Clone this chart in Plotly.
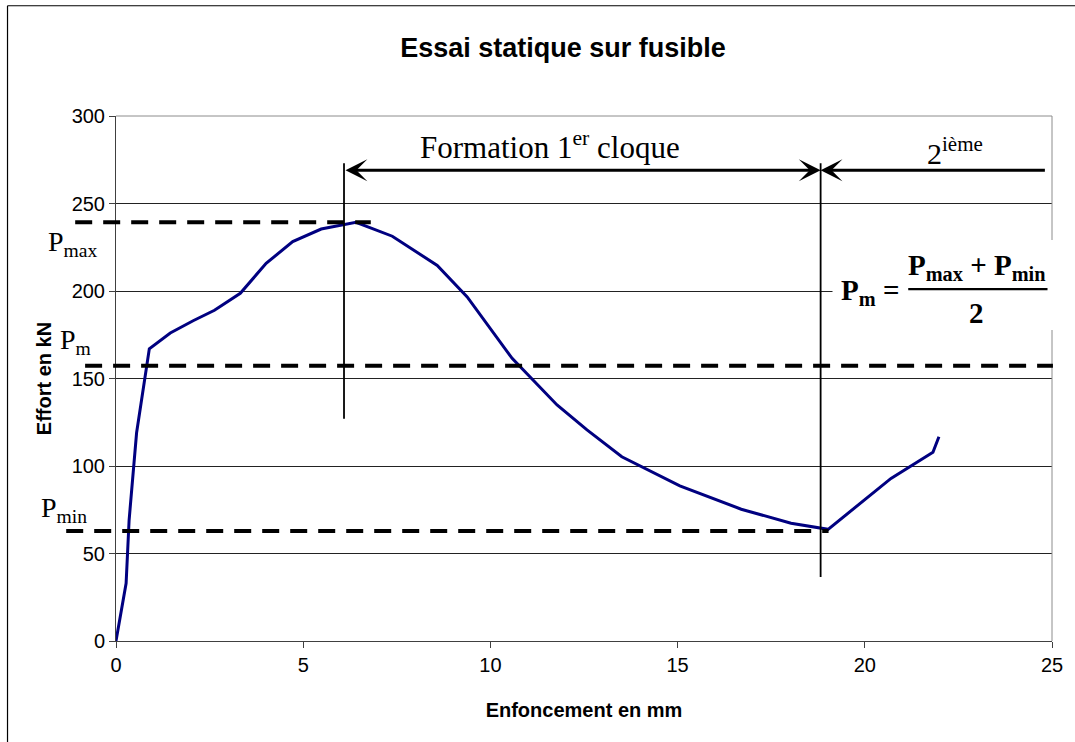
import plotly.graph_objects as go

# Static test on a crush fuse: force vs. indentation
enfoncement_mm = [0, 0.27, 0.35, 0.55, 0.89, 1.45, 2.06, 2.63, 3.32, 4.01, 4.72, 5.48,
                  6.41, 7.38, 8.58, 9.38, 10.58, 11.78, 12.58, 13.51, 15.06, 16.70,
                  18.03, 19.02, 20.70, 21.82, 21.98]
effort_kN = [0, 33, 69, 119, 167, 176, 183, 189, 198.7, 215.8, 228.2, 235.4,
             239.2, 231.3, 214.6, 196.6, 161.5, 134.9, 120.6, 105.3, 88.7, 75.3,
             67.3, 63.8, 92.9, 107.8, 116.7]

# Characteristic levels
P_max = 239.3
P_m = 157.3
P_min = 62.9

# Phase boundaries (mm) and the level of the phase arrows (kN)
debut_cloque_1 = 6.09
debut_cloque_2 = 18.82
fin_cloque_2 = 24.85
niveau_fleches = 269

x_ticks = [0, 5, 10, 15, 20, 25]
y_ticks = [0, 50, 100, 150, 200, 250, 300]

SANS = "Liberation Sans, Arial, sans-serif"
SERIF = "Liberation Serif, Times New Roman, serif"

fig = go.Figure()
fig.add_trace(go.Scatter(
    x=enfoncement_mm, y=effort_kN, mode="lines",
    line=dict(color="#000080", width=3), showlegend=False, hoverinfo="x+y",
))

shapes = []
# plot-area frame (top and right sides)
shapes.append(dict(type="line", xref="paper", yref="paper", x0=0, x1=1, y0=1, y1=1,
                   line=dict(color="#8c8c8c", width=1), layer="above"))
shapes.append(dict(type="line", xref="paper", yref="paper", x0=1, x1=1, y0=0, y1=1,
                   line=dict(color="#8c8c8c", width=1), layer="above"))
# outer chart frame
shapes.append(dict(type="line", xref="paper", yref="paper", x0=-0.1159, x1=1.03, y0=1.21, y1=1.21,
                   line=dict(color="#000", width=1.2), layer="above"))
shapes.append(dict(type="line", xref="paper", yref="paper", x0=-0.1159, x1=-0.1159, y0=-0.2, y1=1.21,
                   line=dict(color="#000", width=1.2), layer="above"))

# dashed reference levels
dash = "17px,11px"
for lvl, xa, xb in [(P_max, -0.0436, 0.2722), (P_m, -0.033, 1.001), (P_min, -0.0532, 0.7613)]:
    shapes.append(dict(type="line", xref="paper", yref="y", x0=xa, x1=xb, y0=lvl, y1=lvl,
                       line=dict(color="#000", width=4, dash=dash), layer="above"))

# phase boundaries
shapes.append(dict(type="line", xref="x", yref="y", x0=debut_cloque_1, x1=debut_cloque_1,
                   y0=127, y1=273, line=dict(color="#000", width=1.8), layer="above"))
shapes.append(dict(type="line", xref="x", yref="y", x0=debut_cloque_2, x1=debut_cloque_2,
                   y0=36.6, y1=273, line=dict(color="#000", width=1.8), layer="above"))

# white panel behind the formula
shapes.append(dict(type="rect", xref="paper", yref="paper", x0=0.7655, x1=1.03, y0=0.5924, y1=0.7638,
                   fillcolor="#fff", line=dict(width=0), layer="above"))
# fraction bar
shapes.append(dict(type="line", xref="x", yref="y", x0=21.16, x1=24.88, y0=201.1, y1=201.1,
                   line=dict(color="#000", width=2.2), layer="above"))

annotations = []
# phase arrows
annotations.append(dict(x=debut_cloque_2, y=niveau_fleches, ax=debut_cloque_1, ay=niveau_fleches,
                        xref="x", yref="y", axref="x", ayref="y", text="", showarrow=True,
                        arrowhead=3, startarrowhead=3, arrowside="end+start", arrowsize=1.3,
                        startarrowsize=1.3, arrowwidth=2.8, arrowcolor="#000", standoff=0, startstandoff=0))
annotations.append(dict(x=debut_cloque_2, y=niveau_fleches, ax=fin_cloque_2, ay=niveau_fleches,
                        xref="x", yref="y", axref="x", ayref="y", text="", showarrow=True,
                        arrowhead=3, arrowsize=1.3, arrowwidth=2.8, arrowcolor="#000", standoff=0))
annotations.append(dict(x=11.6, y=283, xref="x", yref="y", showarrow=False,
                        text="Formation 1<sup>er</sup> cloque",
                        font=dict(family=SERIF, size=31, color="#000")))
annotations.append(dict(x=22.4, y=280, xref="x", yref="y", showarrow=False,
                        text="2<sup>ième</sup>", font=dict(family=SERIF, size=30, color="#000")))

# level labels
for txt, xp, lvl in [("P<sub>max</sub>", -0.0744, 227.4), ("P<sub>m</sub>", -0.0617, 170.9),
                     ("P<sub>min</sub>", -0.0819, 75.4)]:
    annotations.append(dict(x=xp, y=lvl, xref="paper", yref="y", xanchor="left", yanchor="middle",
                            showarrow=False, text=txt, font=dict(family=SERIF, size=28, color="#000")))

# formula P_m = (P_max + P_min) / 2
annotations.append(dict(x=19.3, y=199.6, xref="x", yref="y", xanchor="left", yanchor="middle",
                        showarrow=False, text="<b>P<sub>m</sub> =</b>",
                        font=dict(family=SERIF, size=29, color="#000")))
annotations.append(dict(x=22.97, y=213.5, xref="x", yref="y", xanchor="center", yanchor="middle",
                        showarrow=False, text="<b>P<sub>max</sub> + P<sub>min</sub></b>",
                        font=dict(family=SERIF, size=29, color="#000")))
annotations.append(dict(x=22.99, y=187.4, xref="x", yref="y", xanchor="center", yanchor="middle",
                        showarrow=False, text="<b>2</b>",
                        font=dict(family=SERIF, size=29, color="#000")))

fig.update_layout(
    width=1075, height=742,
    margin=dict(l=116, r=19, t=116, b=101),
    paper_bgcolor="#fff", plot_bgcolor="#fff",
    title=dict(text="<b>Essai statique sur fusible</b>", x=563 / 1075, xref="container",
               y=1 - 48 / 742, yref="container", xanchor="center", yanchor="middle",
               font=dict(family=SANS, size=27, color="#000")),
    xaxis=dict(range=[0, 25], tickvals=x_ticks, ticks="outside", ticklen=6, tickcolor="#404040",
               showgrid=False, zeroline=False, showline=True, linecolor="#404040", linewidth=1,
               tickfont=dict(family=SANS, size=20, color="#000"),
               title=dict(text="<b>Enfoncement en mm</b>", font=dict(family=SANS, size=20, color="#000"),
                          standoff=27)),
    yaxis=dict(range=[0, 300], tickvals=y_ticks, ticks="outside", ticklen=6, tickcolor="#404040",
               showgrid=True, gridcolor="#222", gridwidth=1, zeroline=False, showline=True,
               linecolor="#404040", linewidth=1,
               tickfont=dict(family=SANS, size=20, color="#000"),
               title=dict(text="<b>Effort en kN</b>", font=dict(family=SANS, size=20, color="#000"),
                          standoff=14)),
    shapes=shapes, annotations=annotations,
)

fig.write_html("out.html")
